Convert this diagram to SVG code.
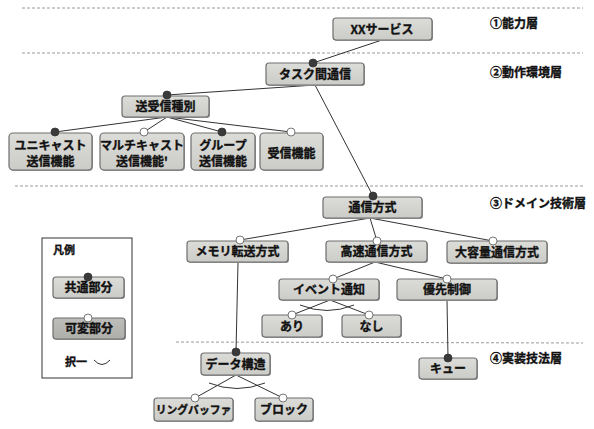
<svg xmlns="http://www.w3.org/2000/svg" width="594" height="429" viewBox="0 0 594 429">
<defs>
<linearGradient id="g1" x1="0" y1="0" x2="0" y2="1"><stop offset="0" stop-color="#dcdcd8"/><stop offset="1" stop-color="#cbcbc7"/></linearGradient>
<linearGradient id="g2" x1="0" y1="0" x2="0" y2="1"><stop offset="0" stop-color="#bdbdb9"/><stop offset="1" stop-color="#aeaeaa"/></linearGradient>
</defs>
<style>
text{font-family:"Noto Sans CJK JP","Noto Sans",sans-serif;font-weight:bold;font-size:12px;fill:#111;stroke:#111;stroke-width:0.35;text-anchor:middle}
.lay{font-size:12px;text-anchor:start}
.box{fill:url(#g1);stroke:#6e6e6e;stroke-width:1.2}
.box2{fill:url(#g2);stroke:#6e6e6e;stroke-width:1.2}
.sh{fill:#9a9a9a}
.dash{stroke:#9a9a9a;stroke-width:1;stroke-dasharray:3,2;fill:none}
.ln{stroke:#333;stroke-width:1;fill:none}
.on{fill:#3a3a3a;stroke:#333;stroke-width:0.8}
.off{fill:#fff;stroke:#555;stroke-width:0.8}
</style>
<g id="layers">
<line class="dash" x1="22" y1="8" x2="583" y2="8"/>
<line class="dash" x1="22" y1="53" x2="583" y2="53"/>
<line class="dash" x1="15" y1="186" x2="583" y2="186"/>
<line class="dash" x1="176" y1="342" x2="583" y2="343"/>
<text class="lay" x="490" y="27.5">①能力層</text>
<text class="lay" x="490" y="76.5">②動作環境層</text>
<text class="lay" x="490" y="207.5">③ドメイン技術層</text>
<text class="lay" x="490" y="362.5">④実装技法層</text>
</g>
<g id="connectors">
<line class="ln" x1="382" y1="40" x2="313" y2="63"/>
<line class="ln" x1="315" y1="85" x2="167" y2="95"/>
<line class="ln" x1="315" y1="85" x2="373" y2="196"/>
<line class="ln" x1="167" y1="117" x2="55" y2="132"/>
<line class="ln" x1="167" y1="117" x2="144" y2="132"/>
<line class="ln" x1="167" y1="117" x2="222" y2="132"/>
<line class="ln" x1="167" y1="117" x2="291" y2="132"/>
<line class="ln" x1="370" y1="218" x2="240" y2="240"/>
<line class="ln" x1="370" y1="218" x2="377" y2="241"/>
<line class="ln" x1="370" y1="218" x2="493" y2="241"/>
<line class="ln" x1="375" y1="262" x2="333" y2="279"/>
<line class="ln" x1="375" y1="262" x2="447" y2="279"/>
<line class="ln" x1="330" y1="300" x2="292" y2="315"/>
<line class="ln" x1="330" y1="300" x2="369" y2="315"/>
<path class="ln" d="M300,305 Q327,316 354,305"/>
<line class="ln" x1="447" y1="300" x2="448" y2="358"/>
<line class="ln" x1="238" y1="262" x2="236" y2="352"/>
<line class="ln" x1="236" y1="375" x2="195" y2="398"/>
<line class="ln" x1="236" y1="375" x2="283" y2="398"/>
<path class="ln" d="M209,383 Q237,394 265,383"/>
</g>
<g id="n-xx"><rect class="sh" x="334" y="19" width="99" height="22" rx="3"/><rect class="box" x="333" y="18" width="99" height="22" rx="3"/><text x="382" y="33.5">XXサービス</text></g>
<g id="n-task"><rect class="sh" x="267" y="64" width="98" height="22" rx="3"/><rect class="box" x="266" y="63" width="98" height="22" rx="3"/><text x="315" y="78.5">タスク間通信</text><circle class="on" cx="313" cy="63" r="4"/></g>
<g id="n-sojushin"><rect class="sh" x="123" y="97" width="87" height="21" rx="3"/><rect class="box" x="122" y="96" width="87" height="21" rx="3"/><text x="165.5" y="111">送受信種別</text><circle class="on" cx="167" cy="95" r="4"/></g>
<g id="n-uni"><rect class="sh" x="10" y="134" width="83" height="37" rx="4"/><rect class="box" x="9" y="133" width="83" height="37" rx="4"/><text x="50.5" y="149.5">ユニキャスト</text><text x="50.5" y="165.5">送信機能</text><circle class="on" cx="55" cy="132" r="4"/></g>
<g id="n-multi"><rect class="sh" x="101" y="134" width="84" height="37" rx="4"/><rect class="box" x="100" y="133" width="84" height="37" rx="4"/><text x="142" y="149.5">マルチキャスト</text><text x="142" y="165.5">送信機能'</text><circle class="off" cx="144" cy="132" r="4"/></g>
<g id="n-group"><rect class="sh" x="192" y="134" width="64" height="37" rx="4"/><rect class="box" x="191" y="133" width="64" height="37" rx="4"/><text x="223" y="149.5">グループ</text><text x="223" y="165.5">送信機能</text><circle class="on" cx="222" cy="132" r="4"/></g>
<g id="n-recv"><rect class="sh" x="261" y="134" width="63" height="37" rx="4"/><rect class="box" x="260" y="133" width="63" height="37" rx="4"/><text x="291.5" y="157.5">受信機能</text><circle class="off" cx="291" cy="132" r="4"/></g>
<g id="n-tsushin"><rect class="sh" x="324" y="198" width="99" height="21" rx="3"/><rect class="box" x="323" y="197" width="99" height="21" rx="3"/><text x="372.5" y="212">通信方式</text><circle class="on" cx="373" cy="196" r="4"/></g>
<g id="n-memory"><rect class="sh" x="188" y="242" width="101" height="21" rx="3"/><rect class="box" x="187" y="241" width="101" height="21" rx="3"/><text x="237.5" y="256">メモリ転送方式</text><circle class="off" cx="240" cy="240" r="4"/></g>
<g id="n-kousoku"><rect class="sh" x="327" y="242" width="101" height="21" rx="3"/><rect class="box" x="326" y="241" width="101" height="21" rx="3"/><text x="376.5" y="256">高速通信方式</text><circle class="off" cx="377" cy="241" r="4"/></g>
<g id="n-daiyoryo"><rect class="sh" x="448" y="242" width="100" height="22" rx="3"/><rect class="box" x="447" y="241" width="100" height="22" rx="3"/><text x="497" y="256.5">大容量通信方式</text><circle class="off" cx="493" cy="241" r="4"/></g>
<g id="n-event"><rect class="sh" x="280" y="280" width="100" height="21" rx="3"/><rect class="box" x="279" y="279" width="100" height="21" rx="3"/><text x="329" y="294">イベント通知</text><circle class="off" cx="333" cy="279" r="4"/></g>
<g id="n-yusen"><rect class="sh" x="398" y="280" width="100" height="21" rx="3"/><rect class="box" x="397" y="279" width="100" height="21" rx="3"/><text x="447" y="294">優先制御</text><circle class="off" cx="447" cy="279" r="4"/></g>
<g id="n-ari"><rect class="sh" x="263" y="316" width="60" height="22" rx="3"/><rect class="box" x="262" y="315" width="60" height="22" rx="3"/><text x="292" y="330.5">あり</text><circle class="off" cx="292" cy="315" r="4"/></g>
<g id="n-nashi"><rect class="sh" x="343" y="316" width="59" height="22" rx="3"/><rect class="box" x="342" y="315" width="59" height="22" rx="3"/><text x="371.5" y="330.5">なし</text><circle class="off" cx="369" cy="315" r="4"/></g>
<g id="n-queue"><rect class="sh" x="420" y="359" width="58" height="21" rx="3"/><rect class="box" x="419" y="358" width="58" height="21" rx="3"/><text x="448" y="373">キュー</text><circle class="on" cx="448" cy="358" r="4"/></g>
<g id="n-data"><rect class="sh" x="202" y="354" width="69" height="22" rx="3"/><rect class="box" x="201" y="353" width="69" height="22" rx="3"/><text x="235.5" y="368.5">データ構造</text><circle class="on" cx="236" cy="352" r="4"/></g>
<g id="n-ring"><rect class="sh" x="155" y="399" width="79" height="23" rx="3"/><rect class="box" x="154" y="398" width="79" height="23" rx="3"/><text x="193.5" y="413.5" style="font-size:10.8px">リングバッファ</text><circle class="off" cx="195" cy="398" r="4"/></g>
<g id="n-block"><rect class="sh" x="256" y="399" width="58" height="23" rx="3"/><rect class="box" x="255" y="398" width="58" height="23" rx="3"/><text x="284" y="414">ブロック</text><circle class="off" cx="283" cy="398" r="4"/></g>
<g id="legend">
<rect x="42" y="238" width="90" height="140" fill="#fff" stroke="#333" stroke-width="1"/>
<text x="53" y="254" style="text-anchor:start;font-size:11px">凡例</text>
<rect class="sh" x="54" y="278" width="71" height="21" rx="3"/><rect class="box" x="53" y="277" width="71" height="21" rx="3"/><text x="88.5" y="292">共通部分</text><circle class="on" cx="88" cy="277" r="4"/>
<rect class="sh" x="54" y="319" width="72" height="21" rx="3"/><rect class="box2" x="53" y="318" width="72" height="21" rx="3"/><text x="89" y="333">可変部分</text><circle class="off" cx="88" cy="318" r="4"/>
<text x="65" y="366" style="text-anchor:start;font-size:11px">択一</text>
<path class="ln" d="M94,360 Q102,369 110,360"/>
</g>
</svg>
